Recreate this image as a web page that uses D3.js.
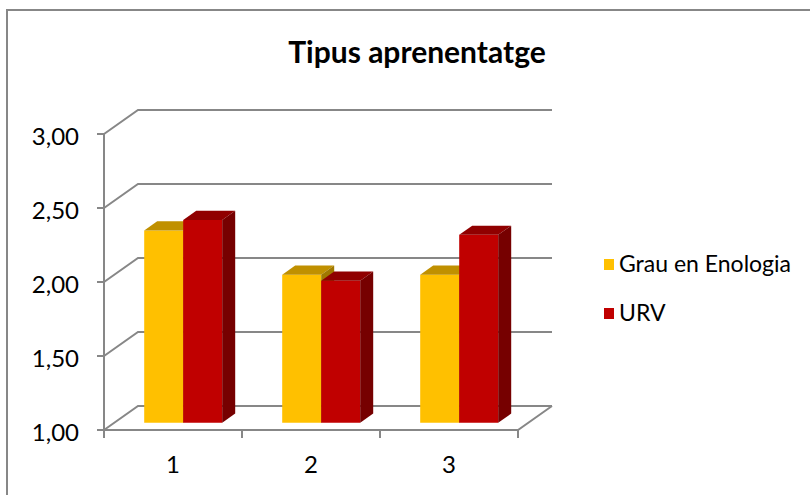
<!DOCTYPE html>
<html>
<head>
<meta charset="utf-8">
<script src="https://cdn.jsdelivr.net/npm/d3@7"></script>
<style>
  html, body { margin: 0; padding: 0; background: #fff; }
  svg { display: block; }
  text { font-family: Lato, "Open Sans", sans-serif; fill: #000; }
</style>
</head>
<body>
<div id="chart"></div>
<script>
const title = "Tipus aprenentatge";
const categories = ["1", "2", "3"];
const seriesNames = ["Grau en Enologia", "URV"];
const grauValues = [2.30, 2.00, 2.00];
const urvValues = [2.37, 1.96, 2.27];
const yTicks = [1.00, 1.50, 2.00, 2.50, 3.00];

const W = 810, H = 495;
const svg = d3.select("#chart").append("svg").attr("width", W).attr("height", H);

// outer border
svg.append("rect").attr("x", 7).attr("y", 10).attr("width", 830).attr("height", 520)
  .attr("fill", "#fff").attr("stroke", "#878787").attr("stroke-width", 2);

const DX = 34, DY = -24; // oblique depth
const x = d3.scaleBand().domain(categories).range([104, 518]).paddingInner(0).paddingOuter(0);
const y = d3.scaleLinear().domain([1, 3]).range([430, 134]);
const gapFrac = 30 / 138;
const xSub = d3.scaleBand().domain(seriesNames)
  .range([x.bandwidth() * gapFrac, x.bandwidth() * (1 - gapFrac)]);
const color = d3.scaleOrdinal().domain(seriesNames).range(["#FFC000", "#C00000"]);
const topColor = d3.scaleOrdinal().domain(seriesNames).range(["#C09000", "#900000"]);
const sideColor = d3.scaleOrdinal().domain(seriesNames).range(["#A07800", "#760000"]);

const P = (px, py, d) => [px + DX * d, py + DY * d];
const gridColor = "#878787";
const x0 = x.range()[0], x1 = x.range()[1];

const g = svg.append("g");
// gridlines: left wall slant + back wall horizontal
yTicks.forEach(v => {
  const a = P(x0, y(v), 0), b = P(x0, y(v), 1), c = P(x1, y(v), 1);
  g.append("path").attr("d", d3.line()([a, b, c]))
    .attr("fill", "none").attr("stroke", gridColor).attr("stroke-width", 2);
});
// floor: front edge and right slant
{
  const a = P(x0, y(1), 0), b = P(x1, y(1), 0), c = P(x1, y(1), 1);
  g.append("path").attr("d", d3.line()([a, b, c]))
    .attr("fill", "none").attr("stroke", gridColor).attr("stroke-width", 2);
}
// vertical axis
g.append("line").attr("x1", x0).attr("x2", x0).attr("y1", y(3)).attr("y2", y(1) + 1)
  .attr("stroke", gridColor).attr("stroke-width", 2);
// y ticks & labels
yTicks.forEach(v => {
  g.append("line").attr("x1", x0 - 7).attr("x2", x0).attr("y1", y(v)).attr("y2", y(v))
    .attr("stroke", gridColor).attr("stroke-width", 2);
  g.append("text").attr("x", 79).attr("y", y(v) + 11).attr("text-anchor", "end")
    .attr("font-size", 24).text(d3.format(".2f")(v).replace(".", ","));
});
// x ticks & labels
const xTickPos = categories.map(c => x(c)).concat([x1]);
xTickPos.forEach(px => {
  g.append("line").attr("x1", px).attr("x2", px).attr("y1", y(1)).attr("y2", y(1) + 8)
    .attr("stroke", gridColor).attr("stroke-width", 2);
});
categories.forEach(c => {
  g.append("text").attr("x", x(c) + x.bandwidth() / 2).attr("y", 473).attr("text-anchor", "middle")
    .attr("font-size", 24).text(c);
});

// bars
const d0 = 0.3, d1 = 0.3 + 13 / 34;
const bars = [];
categories.forEach((c, i) => {
  bars.push({ cat: c, s: seriesNames[0], v: grauValues[i] });
  bars.push({ cat: c, s: seriesNames[1], v: urvValues[i] });
});
const bg = svg.append("g");
bars.forEach(b => {
  const L = x(b.cat) + xSub(b.s), R = L + xSub.bandwidth();
  const T = y(b.v), B = y(1);
  const front = [P(L, T, d0), P(R, T, d0), P(R, B, d0), P(L, B, d0)];
  const top = [P(L, T, d0), P(R, T, d0), P(R, T, d1), P(L, T, d1)];
  const side = [P(R, T, d0), P(R, T, d1), P(R, B, d1), P(R, B, d0)];
  const poly = pts => "M" + pts.map(p => p.join(",")).join("L") + "Z";
  bg.append("path").attr("d", poly(front)).attr("fill", color(b.s));
  bg.append("path").attr("d", poly(top)).attr("fill", topColor(b.s));
  bg.append("path").attr("d", poly(side)).attr("fill", sideColor(b.s));
});

// title
svg.append("text").attr("x", 417).attr("y", 63).attr("text-anchor", "middle")
  .attr("font-size", 30).attr("font-weight", "bold").text(title);

// legend
const lg = svg.append("g");
seriesNames.forEach((s, i) => {
  const yy = 259 + i * 49;
  lg.append("rect").attr("x", 604).attr("y", yy).attr("width", 10).attr("height", 11).attr("fill", color(s));
  lg.append("text").attr("x", 619).attr("y", yy + 13).attr("font-size", 23).text(s);
});
</script>
</body>
</html>
